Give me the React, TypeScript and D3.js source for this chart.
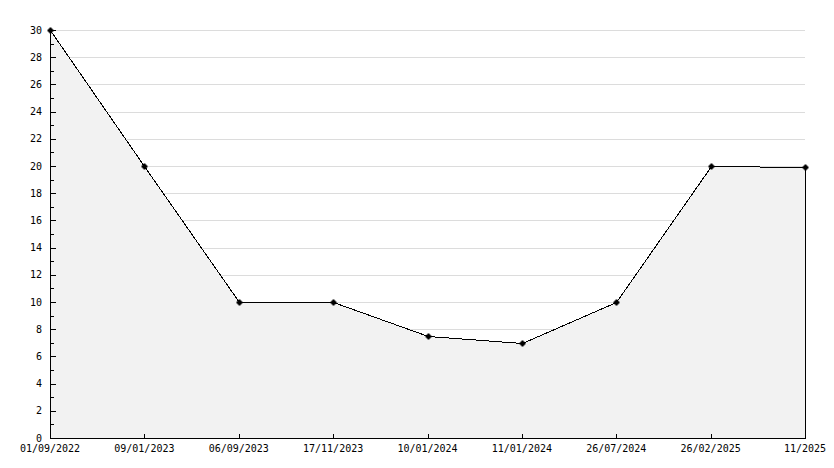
import React from "react";
import * as d3 from "d3";

const labels = [
  "01/09/2022",
  "09/01/2023",
  "06/09/2023",
  "17/11/2023",
  "10/01/2024",
  "11/01/2024",
  "26/07/2024",
  "26/02/2025",
  "11/2025",
];
const values = [30, 20, 10, 10, 7.5, 7, 10, 20, 19.9];
const yTicks = d3.range(0, 31, 2);
const yMinorTicks = d3.range(1, 30, 2);

const W = 834;
const H = 468;
const left = 50;
const right = 805;
const top = 30;
const bottom = 438;

export default function App() {
  const x = d3.scalePoint<string>().domain(labels).range([left, right]);
  const y = d3.scaleLinear().domain([0, 30]).range([bottom, top]);
  const px = (v: number) => Math.round(v) + 0.5;

  const pts: [number, number][] = labels.map((l, i) => [px(x(l)!), px(y(values[i]))]);
  const line = d3.line()(pts) as string;
  const area = d3
    .area<[number, number]>()
    .x((d) => d[0])
    .y0(px(y(0)))
    .y1((d) => d[1])(pts) as string;

  const font = "'DejaVu Sans Mono', monospace";

  return (
    <svg
      width={W}
      height={H}
      style={{ position: "absolute", left: 0, top: 0, display: "block", background: "#fff" }}
    >
      <rect x={0} y={0} width={W} height={H} fill="#fff" />
      {/* grid */}
      <g shapeRendering="crispEdges">
        {yTicks.map((t) => (
          <line key={"g" + t} x1={left} x2={right} y1={px(y(t))} y2={px(y(t))} stroke="#dcdcdc" />
        ))}
      </g>
      {/* area */}
      <path d={area} fill="#f2f2f2" stroke="none" />
      {/* right edge */}
      <line
        x1={pts[pts.length - 1][0]}
        x2={pts[pts.length - 1][0]}
        y1={pts[pts.length - 1][1]}
        y2={px(y(0))}
        stroke="#000"
        shapeRendering="crispEdges"
      />
      {/* line */}
      <path d={line} fill="none" stroke="#000" strokeWidth={1} shapeRendering="crispEdges" />
      {/* axes */}
      <g shapeRendering="crispEdges" stroke="#000">
        <line x1={px(left)} x2={px(left)} y1={px(top)} y2={px(bottom)} />
        <line x1={px(left)} x2={px(right)} y1={px(bottom)} y2={px(bottom)} />
        {yTicks.map((t) => (
          <line key={"yt" + t} x1={px(left)} x2={px(left) + 5} y1={px(y(t))} y2={px(y(t))} />
        ))}
        {yMinorTicks.map((t) => (
          <line key={"ym" + t} x1={px(left)} x2={px(left) + 3} y1={px(y(t))} y2={px(y(t))} />
        ))}
        {labels.map((l) => (
          <line key={"xt" + l} x1={px(x(l)!)} x2={px(x(l)!)} y1={px(bottom)} y2={px(bottom) - 5} />
        ))}
      </g>
      {/* y labels */}
      <g fontFamily={font} fontSize={10} fill="#000">
        {yTicks.map((t) => (
          <text key={"yl" + t} x={42} y={y(t)} textAnchor="end" dominantBaseline="central">
            {t}
          </text>
        ))}
        {labels.map((l) => (
          <text key={"xl" + l} x={x(l)!} y={452} textAnchor="middle">
            {l}
          </text>
        ))}
      </g>
      {/* markers */}
      <g fill="#000">
        {pts.map((p, i) => (
          <g key={"m" + i} transform={`translate(${p[0]},${p[1]})`}>
            <rect x={-2} y={-2} width={4} height={4} />
            <rect x={-3} y={-1} width={6} height={2} />
            <rect x={-1} y={-3} width={2} height={6} />
          </g>
        ))}
      </g>
    </svg>
  );
}
